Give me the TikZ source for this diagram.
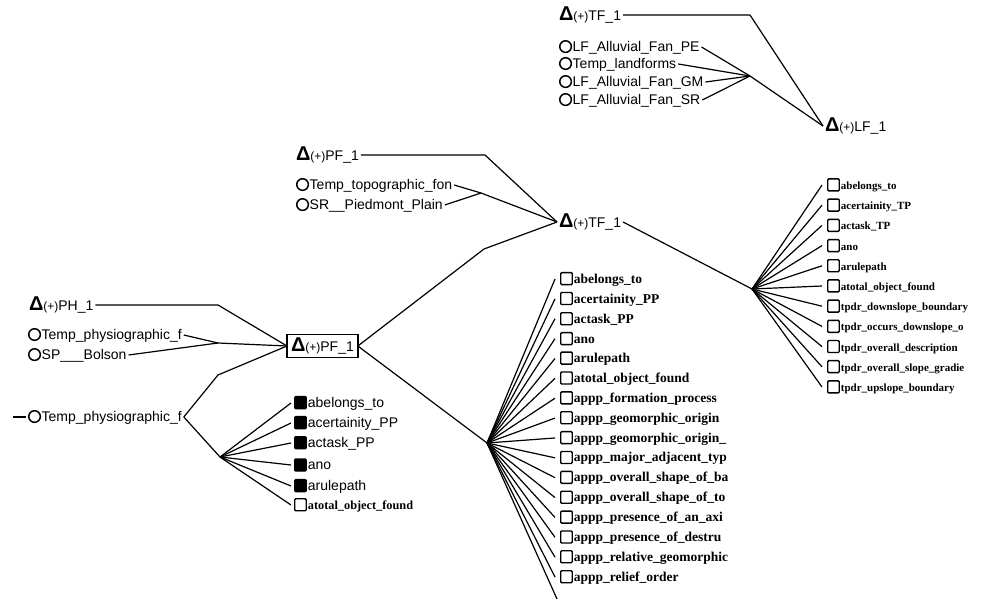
\documentclass[tikz,border=0pt]{standalone}
\usepackage{fontspec}
\setmainfont{Liberation Sans}
\newfontfamily\tagfont{Liberation Serif}

% small glyphs used in front of the labels
\newcommand\ringicon{\tikz[baseline=0pt]\draw[line width=1.5pt] (5.8pt,4.6pt) circle (5.8pt);\hspace{0.6pt}}
\newcommand\boxicon[1]{\tikz[baseline=0pt]\draw[line width=1.4pt,rounded corners=1pt,fill=#1] (0pt,-1.5pt) rectangle (11.5pt,10.5pt);\hspace{1pt}}
\newcommand\deltaicon{{\fontsize{20}{20}\selectfont\bfseries Δ}}
\newcommand\plustag{{\fontsize{12}{12}\selectfont(+)}}

\begin{document}
\begin{tikzpicture}[x=1pt,y=-1pt,
  lab/.style={anchor=west,inner sep=0pt,outer sep=2pt,font=\fontsize{14}{15}\selectfont},
  filledlab/.style={anchor=west,inner sep=0pt,outer sep=3pt,font=\fontsize{14}{15}\selectfont},
  tagmid/.style={anchor=west,inner sep=0pt,outer sep=5pt,font=\tagfont\bfseries\fontsize{13.5}{15}\selectfont},
  tagright/.style={anchor=west,inner sep=0pt,outer sep=5pt,font=\tagfont\bfseries\fontsize{11}{13}\selectfont},
  tagleft/.style={anchor=west,inner sep=0pt,outer sep=3pt,font=\tagfont\bfseries\fontsize{12.3}{14}\selectfont},
  framed/.style={lab,draw,line width=1.4pt,inner xsep=4pt,inner ysep=3pt,outer sep=0pt},
  wire/.style={line width=1.2pt,line join=round}]
\useasboundingbox (0,0) rectangle (985,599);

% ---- landform branch ----
\node[lab] (tfTop) at (557,15) {\deltaicon\plustag TF\_1};
\node[lab] (lfPE)   at (557,47)  {\ringicon LF\_Alluvial\_Fan\_PE};
\node[lab] (lfTemp) at (557,64)  {\ringicon Temp\_landforms};
\node[lab] (lfGM)   at (557,82)  {\ringicon LF\_Alluvial\_Fan\_GM};
\node[lab] (lfSR)   at (557,100) {\ringicon LF\_Alluvial\_Fan\_SR};
\node[lab] (LF1) at (823,126) {\deltaicon\plustag LF\_1};
\coordinate (tfTopBend) at (750,15);
\coordinate (lfJoin) at (750,76);
\draw[wire] (tfTop.east) -- (tfTopBend) -- (LF1.west);
\foreach \n in {lfPE,lfTemp,lfGM,lfSR} \draw[wire] (\n.east) -- (lfJoin);
\draw[wire] (lfJoin) -- (LF1.west);

% ---- topographic branch ----
\node[lab] (pfTop) at (294,155) {\deltaicon\plustag PF\_1};
\node[lab] (topo)  at (294,185) {\ringicon Temp\_topographic\_fon};
\node[lab] (piedmont) at (294,205) {\ringicon SR\_\_Piedmont\_Plain};
\node[lab] (TF1) at (557,222) {\deltaicon\plustag TF\_1};
\coordinate (pfTopBend) at (485,155);
\coordinate (topoJoin) at (481,193);
\draw[wire] (pfTop.east) -- (pfTopBend) -- (TF1.west);
\draw[wire] (topo.east) -- (topoJoin);
\draw[wire] (piedmont.east) -- (topoJoin) -- (TF1.west);

% ---- physiographic branch ----
\node[lab] (ph) at (27,305) {\deltaicon\plustag PH\_1};
\node[lab] (tphys) at (26,335) {\ringicon Temp\_physiographic\_f};
\node[lab] (bolson) at (26,355) {\ringicon SP\_\_\_Bolson};
\node[lab] (tphysB) at (26,417) {\ringicon Temp\_physiographic\_f};
\node[framed,anchor=west] (PF1) at (287,346) {\deltaicon\plustag PF\_1};
\coordinate (phBend) at (218,305);
\coordinate (physJoin) at (218,343);
\coordinate (lowBend) at (218,375);
\coordinate (dashEnd) at (13,417);
\draw[wire] (ph.east) -- (phBend) -- (PF1.west);
\draw[wire] (tphys.east) -- (physJoin);
\draw[wire] (bolson.east) -- (physJoin) -- (PF1.west);
\draw[wire] (dashEnd) -- (tphysB.west);

% ---- PF_1 attributes (left) ----
\coordinate (leftFan) at (220,457);
\draw[wire] (PF1.west) -- (lowBend) -- (tphysB.east) -- (leftFan);
\node[filledlab] (l1) at (291,403) {\boxicon{black}abelongs\_to};
\node[filledlab] (l2) at (291,423) {\boxicon{black}acertainity\_PP};
\node[filledlab] (l3) at (291,443) {\boxicon{black}actask\_PP};
\node[filledlab] (l4) at (291,465) {\boxicon{black}ano};
\node[filledlab] (l5) at (291,486) {\boxicon{black}arulepath};
\node[tagleft]   (l6) at (291,505) {\boxicon{white}atotal\_object\_found};
\foreach \n in {l1,l2,l3,l4,l5,l6} \draw[wire] (leftFan) -- (\n.west);

% ---- PF_1 attributes (middle) ----
\coordinate (pfUp) at (484,249);
\coordinate (midFan) at (487,443);
\coordinate (midTail) at (557,599);
\draw[wire] (PF1.east) -- (pfUp) -- (TF1.west);
\draw[wire] (PF1.east) -- (midFan);
\foreach \t [count=\i] in {abelongs\_to,acertainity\_PP,actask\_PP,ano,arulepath,
    atotal\_object\_found,appp\_formation\_process,appp\_geomorphic\_origin,
    appp\_geomorphic\_origin\_,appp\_major\_adjacent\_typ,appp\_overall\_shape\_of\_ba,
    appp\_overall\_shape\_of\_to,appp\_presence\_of\_an\_axi,appp\_presence\_of\_destru,
    appp\_relative\_geomorphic,appp\_relief\_order}{
  \node[tagmid] (m\i) at (555,{279+19.87*(\i-1)}) {\boxicon{white}\t};
  \draw[wire] (midFan) -- (m\i.west);
}
\draw[wire] (midFan) -- (midTail);

% ---- TF_1 attributes (right) ----
\coordinate (tfDown) at (752,289);
\draw[wire] (TF1.east) -- (tfDown);
\foreach \t [count=\i] in {abelongs\_to,acertainity\_TP,actask\_TP,ano,arulepath,
    atotal\_object\_found,tpdr\_downslope\_boundary,tpdr\_occurs\_downslope\_o,
    tpdr\_overall\_description,tpdr\_overall\_slope\_gradie,tpdr\_upslope\_boundary}{
  \node[tagright] (r\i) at (822,{185+20.2*(\i-1)}) {\boxicon{white}\t};
  \draw[wire] (tfDown) -- (r\i.west);
}
\end{tikzpicture}
\end{document}
